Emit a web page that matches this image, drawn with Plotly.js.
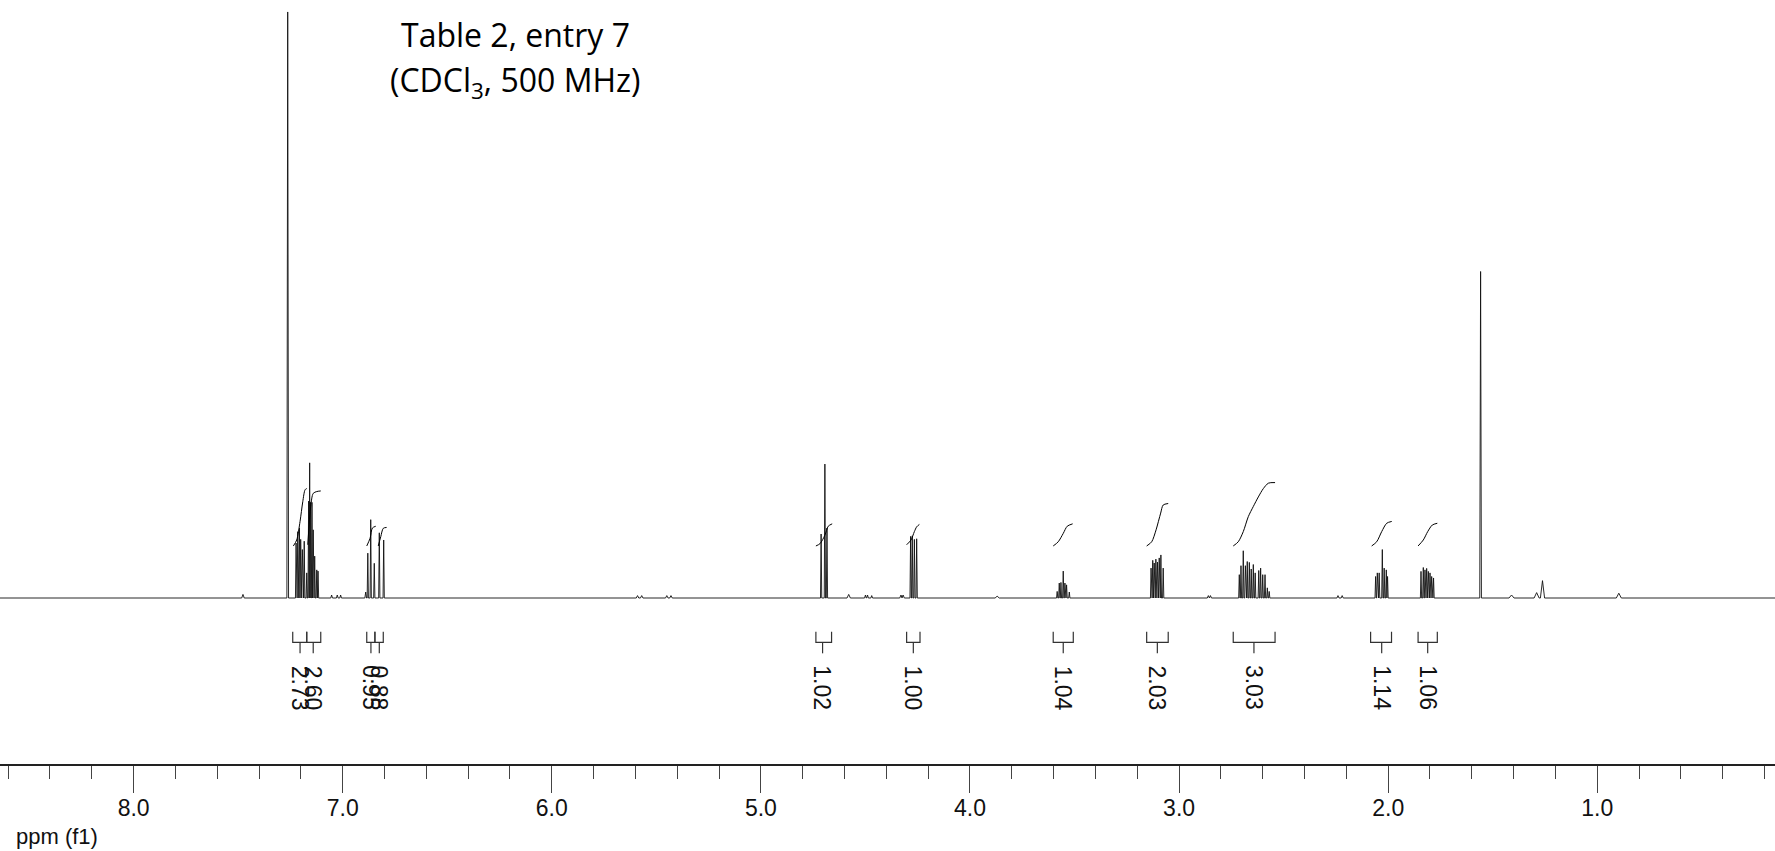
<!DOCTYPE html>
<html>
<head>
<meta charset="utf-8">
<script src="https://cdn.plot.ly/plotly-3.0.1.min.js"></script>
<style>html,body{margin:0;padding:0;background:#fff;}#chart{width:1775px;height:851px;}</style>
</head>
<body>
<div id="chart"></div>
<script>
// ---------- data ----------
const titleLine1 = "Table 2, entry 7";
const titleLine2 = "(CDCl<sub>3</sub>, 500 MHz)";
const axisLabel = "ppm (f1)";

const ppmWindow = [8.639, 0.150];

const majorTickVals = [8, 7, 6, 5, 4, 3, 2, 1];
const majorTickText = ["8.0", "7.0", "6.0", "5.0", "4.0", "3.0", "2.0", "1.0"];

// spectrum lines: chemical shift (ppm), intensity, half width at base (ppm)
const peakPpm = [
  7.477,
  7.263,
  7.223, 7.215, 7.207, 7.201, 7.193, 7.184, 7.172, 7.163, 7.158, 7.154, 7.147, 7.141, 7.134, 7.124, 7.118,
  7.053, 7.026, 7.010,
  6.890, 6.880, 6.866, 6.849, 6.825, 6.804,
  5.59, 5.57, 5.45, 5.43,
  4.712, 4.694, 4.684,
  4.58, 4.50, 4.49, 4.47,
  4.33, 4.32,
  4.284, 4.276, 4.266, 4.255,
  3.87,
  3.583, 3.573, 3.565, 3.554, 3.546, 3.538, 3.525,
  3.134, 3.126, 3.119, 3.111, 3.103, 3.095, 3.087, 3.076,
  2.86, 2.85,
  2.712, 2.704, 2.693, 2.683, 2.674, 2.664, 2.655, 2.645, 2.636, 2.619, 2.610, 2.600, 2.589, 2.578, 2.569,
  2.24, 2.22,
  2.060, 2.052, 2.043, 2.028, 2.019, 2.009, 2.003,
  1.843, 1.832, 1.824, 1.816, 1.808, 1.800, 1.792, 1.783,
  1.558,
  1.41,
  1.290, 1.262,
  0.897
];
const peakHeight = [
  0.6,
  98,
  9.2, 11.1, 11.7, 9.8, 8.1, 9.5, 4.2, 16.2, 22.6, 16.0, 16.0, 11.4, 7.0, 4.7, 4.5,
  0.5, 0.5, 0.5,
  1.0, 7.5, 13.1, 5.8, 10.9, 9.7,
  0.4, 0.4, 0.4, 0.4,
  10.7, 22.4, 11.7,
  0.6, 0.5, 0.5, 0.4,
  0.5, 0.5,
  10.3, 10.4, 9.8, 9.9,
  0.3,
  1.1, 2.5, 2.6, 4.5, 2.5, 2.2, 1.0,
  5.0, 6.3, 5.85, 6.5, 6.0, 6.7, 7.2, 5.0,
  0.4, 0.4,
  3.9, 5.4, 7.9, 5.4, 6.1, 5.95, 4.85, 5.6, 4.2, 4.6, 5.0, 3.9, 3.9, 1.7, 1.1,
  0.4, 0.4,
  3.6, 4.2, 4.2, 8.1, 5.0, 4.7, 3.6,
  4.45, 5.1, 4.7, 4.95, 4.45, 4.2, 3.6, 3.35,
  54.6,
  0.5,
  0.9, 2.9,
  0.8
];
const peakHalfWidth = [
  0.006,
  0.004,
  0.003, 0.003, 0.003, 0.003, 0.003, 0.003, 0.003, 0.003, 0.003, 0.003, 0.003, 0.003, 0.003, 0.003, 0.003,
  0.004, 0.004, 0.004,
  0.004, 0.003, 0.003, 0.003, 0.003, 0.003,
  0.006, 0.006, 0.006, 0.006,
  0.003, 0.003, 0.003,
  0.008, 0.004, 0.004, 0.004,
  0.006, 0.006,
  0.003, 0.003, 0.003, 0.003,
  0.01,
  0.003, 0.003, 0.003, 0.003, 0.003, 0.003, 0.003,
  0.003, 0.003, 0.003, 0.003, 0.003, 0.003, 0.003, 0.003,
  0.005, 0.005,
  0.003, 0.003, 0.003, 0.003, 0.003, 0.003, 0.003, 0.003, 0.003, 0.003, 0.003, 0.003, 0.003, 0.003, 0.003,
  0.005, 0.005,
  0.003, 0.003, 0.003, 0.003, 0.003, 0.003, 0.003,
  0.003, 0.003, 0.003, 0.003, 0.003, 0.003, 0.003, 0.003,
  0.004,
  0.012,
  0.012, 0.010,
  0.012
];

// integration regions
const integralStart = [7.239, 7.172, 6.885, 6.846, 4.737, 4.303, 3.602, 3.155, 2.741, 2.084, 1.857];
const integralEnd   = [7.172, 7.105, 6.846, 6.806, 4.662, 4.239, 3.506, 3.052, 2.541, 1.984, 1.765];
const integralStem  = [7.204, 7.141, 6.865, 6.825, 4.705, 4.271, 3.554, 3.104, 2.642, 2.031, 1.811];
const integralValue = ["2.73", "2.60", "0.95", "0.88", "1.02", "1.00", "1.04", "2.03", "3.03", "1.14", "1.06"];

// integral curves (ppm, height)
const integralCurvePpm = [
  [7.236, 7.220, 7.204, 7.191, 7.180, 7.172],
  [7.167, 7.153, 7.141, 7.124, 7.105],
  [6.885, 6.869, 6.858, 6.842],
  [6.830, 6.818, 6.806, 6.790],
  [4.737, 4.717, 4.694, 4.678, 4.659],
  [4.303, 4.282, 4.266, 4.255, 4.242],
  [3.602, 3.578, 3.554, 3.535, 3.509],
  [3.155, 3.131, 3.110, 3.088, 3.076, 3.052],
  [2.741, 2.717, 2.693, 2.669, 2.645, 2.621, 2.597, 2.573, 2.541],
  [2.079, 2.055, 2.031, 2.007, 1.983],
  [1.857, 1.832, 1.811, 1.789, 1.765]
];
const integralCurveHeight = [
  [8.7, 9.7, 12.8, 16.1, 18.1, 18.3],
  [8.9, 15.3, 17.5, 17.8, 17.9],
  [8.7, 10.0, 11.7, 12.0],
  [8.7, 10.25, 11.65, 11.8],
  [8.7, 9.1, 10.5, 12.0, 12.4],
  [8.9, 9.7, 11.1, 11.9, 12.3],
  [8.7, 9.4, 10.8, 12.0, 12.4],
  [8.7, 9.4, 11.4, 14.2, 15.55, 15.8],
  [8.7, 9.4, 11.1, 13.6, 15.3, 16.9, 18.3, 19.2, 19.3],
  [8.7, 9.4, 11.1, 12.5, 12.8],
  [8.7, 9.7, 11.1, 12.2, 12.5]
];

// ---------- build traces ----------
const order = peakPpm.map((p, i) => i).sort((a, b) => peakPpm[b] - peakPpm[a]);
const specX = [ppmWindow[0]], specY = [0];
function overlaps(i, j) { return peakPpm[j] + peakHalfWidth[j] > peakPpm[i] - peakHalfWidth[i]; }
order.forEach((idx, k) => {
  const prev = k > 0 ? order[k - 1] : null;
  const next = k < order.length - 1 ? order[k + 1] : null;
  if (prev === null || !overlaps(prev, idx)) { specX.push(peakPpm[idx] + peakHalfWidth[idx]); specY.push(0); }
  specX.push(peakPpm[idx]); specY.push(peakHeight[idx]);
  if (next === null || !overlaps(idx, next)) { specX.push(peakPpm[idx] - peakHalfWidth[idx]); specY.push(0); }
  else { specX.push((peakPpm[idx] + peakPpm[next]) / 2); specY.push(0); }
});
specX.push(ppmWindow[1]); specY.push(0);

const traces = [];
traces.push({
  x: specX, y: specY, type: 'scatter', mode: 'lines',
  line: {color: '#111', width: 0.9}, hoverinfo: 'skip', showlegend: false
});
integralCurvePpm.forEach((xs, i) => {
  traces.push({
    x: xs, y: integralCurveHeight[i], type: 'scatter', mode: 'lines',
    line: {color: '#000', width: 1, shape: 'spline', smoothing: 0.8},
    hoverinfo: 'skip', showlegend: false
  });
});

// bracket geometry (in intensity units, below baseline)
const bracketTop = -5.64, bracketBar = -7.41, stemBottom = -9.25, labelTop = -11.1;
const brX = [], brY = [];
integralStart.forEach((s, i) => {
  const e = integralEnd[i], c = integralStem[i];
  brX.push(s, s, e, e, null, c, c, null);
  brY.push(bracketTop, bracketBar, bracketBar, bracketTop, null, bracketBar, stemBottom, null);
});
traces.push({
  x: brX, y: brY, type: 'scatter', mode: 'lines',
  line: {color: '#333', width: 1.2}, hoverinfo: 'skip', showlegend: false, connectgaps: false
});

const annotations = integralValue.map((t, i) => ({
  x: integralStem[i], y: labelTop, xref: 'x', yref: 'y', text: t,
  textangle: 90, showarrow: false, xanchor: 'center', yanchor: 'top', borderpad: 0,
  font: {family: 'Liberation Sans, Arial, sans-serif', size: 23, color: '#111'}
}));
annotations.push({
  x: 515 / 1775, y: 1 - 35 / 764, xref: 'paper', yref: 'paper', text: titleLine1,
  showarrow: false, xanchor: 'center', yanchor: 'middle',
  font: {family: 'Open Sans, sans-serif', size: 32, color: '#000'}
});
annotations.push({
  x: 515 / 1775, y: 1 - 82 / 764, xref: 'paper', yref: 'paper', text: titleLine2,
  showarrow: false, xanchor: 'center', yanchor: 'middle',
  font: {family: 'Open Sans, sans-serif', size: 32, color: '#000'}
});
annotations.push({
  x: 14 / 1775, y: 1 - 836 / 764, xref: 'paper', yref: 'paper', text: axisLabel,
  showarrow: false, xanchor: 'left', yanchor: 'middle',
  font: {family: 'Liberation Sans, Arial, sans-serif', size: 22, color: '#111'}
});

const layout = {
  width: 1775, height: 851,
  margin: {l: 0, r: 0, t: 0, b: 87, pad: 0},
  paper_bgcolor: '#fff', plot_bgcolor: '#fff',
  showlegend: false,
  xaxis: {
    range: ppmWindow, autorange: false,
    showline: true, linecolor: '#222', linewidth: 1.5,
    ticks: 'outside', ticklen: 27, tickwidth: 1, tickcolor: '#444',
    tickmode: 'array', tickvals: majorTickVals, ticktext: majorTickText,
    tickfont: {family: 'Liberation Sans, Arial, sans-serif', size: 23, color: '#111'},
    ticklabelstandoff: -4,
    minor: {tickmode: 'linear', tick0: 0, dtick: 0.2, ticks: 'outside', ticklen: 13, tickwidth: 1, tickcolor: '#444', showgrid: false},
    showgrid: false, zeroline: false, fixedrange: true
  },
  yaxis: {visible: false, range: [-27.76, 100], autorange: false, fixedrange: true},
  annotations: annotations
};

Plotly.newPlot('chart', traces, layout, {staticPlot: true, displayModeBar: false});
</script>
</body>
</html>
